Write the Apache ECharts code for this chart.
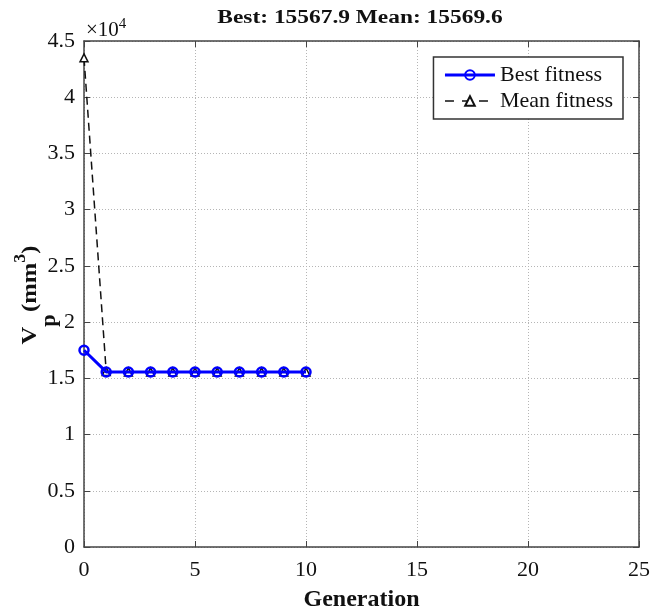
<!DOCTYPE html>
<html><head><meta charset="utf-8">
<script src="https://cdn.jsdelivr.net/npm/echarts@6/dist/echarts.min.js"></script>
<style>html,body{margin:0;padding:0;background:#fff}#c{width:651px;height:611px}</style>
</head><body><div id="c"></div>
<script>
const generations = [0,1,2,3,4,5,6,7,8,9,10];
const bestFitness = [17500,15568,15568,15568,15568,15568,15568,15568,15568,15568,15568];
const meanFitness = [43500,15600,15572,15570,15570,15570,15570,15570,15570,15570,15570];
const titleText = 'Best: 15567.9 Mean: 15569.6';
const xTicks = [0,5,10,15,20,25];
const yTicks = [0,5000,10000,15000,20000,25000,30000,35000,40000,45000];

const F = 'Liberation Serif';
const chart = echarts.init(document.getElementById('c'), null, {renderer:'canvas'});
const gridLine = {show:true, lineStyle:{color:'#b5b5b5', type:[1,2], width:1}};
const tick = {show:true, inside:true, length:6, lineStyle:{color:'#444', width:1}};
chart.setOption({
  animation:false,
  grid:{left:84, right:12, top:41, bottom:64, show:false, outerBoundsMode:'none', containLabel:false},
  legend:{
    right:28, top:57, orient:'vertical', itemGap:4, itemWidth:50, itemHeight:12,
    backgroundColor:'#fff', borderColor:'#333', borderWidth:1.5, padding:[7,10,7,10],
    textStyle:{fontFamily:F, fontSize:22, color:'#111'},
    data:[{name:'Best fitness', lineStyle:{width:3}}, {name:'Mean fitness', lineStyle:{width:1.5, type:[9,8]}}]
  },
  xAxis:[{
    type:'value', min:0, max:25, interval:5, position:'bottom',
    name:'Generation', nameLocation:'middle', nameGap:41,
    nameTextStyle:{fontFamily:F, fontWeight:'bold', fontSize:24, color:'#111'},
    axisLine:{show:true, onZero:false, lineStyle:{color:'#444', width:1.5}},
    axisTick:tick,
    axisLabel:{fontFamily:F, fontSize:22, color:'#111', margin:12},
    splitLine:gridLine
  },{
    type:'value', min:0, max:25, interval:5, position:'top',
    axisLine:{show:true, onZero:false, lineStyle:{color:'#444', width:1.5}},
    axisTick:tick, axisLabel:{show:false}, splitLine:{show:false}
  }],
  yAxis:[{
    type:'value', min:0, max:45000, interval:5000, position:'left',
    axisLine:{show:true, onZero:false, lineStyle:{color:'#444', width:1.5}},
    axisTick:tick,
    axisLabel:{fontFamily:F, fontSize:22, color:'#111', margin:9, formatter:v=>String(v/10000)},
    splitLine:gridLine
  },{
    type:'value', min:0, max:45000, interval:5000, position:'right',
    axisLine:{show:true, onZero:false, lineStyle:{color:'#444', width:1.5}},
    axisTick:tick, axisLabel:{show:false}, splitLine:{show:false}
  }],
  graphic:[
    {type:'text', x:360, y:27, scaleX:1.3, style:{text:titleText, fontFamily:F, fontWeight:'bold', fontSize:18,
      fill:'#111', align:'center', verticalAlign:'bottom'}},
    {type:'text', left:86, top:17, style:{text:'×10{s|4}', fontFamily:F, fontSize:21, fill:'#111',
      rich:{s:{fontFamily:F, fontSize:15, fill:'#111', padding:[0,0,12,0]}}}},
    {type:'text', x:30, y:295, rotation:Math.PI/2, scaleX:1.12, style:{
      text:'V{sub|p}(mm{sup|3})', fontFamily:F, fontWeight:'bold', fontSize:22, fill:'#111',
      align:'center', verticalAlign:'middle',
      rich:{
        sub:{fontFamily:F, fontWeight:'bold', fontSize:20, fill:'#111', padding:[40,2,0,0]},
        sup:{fontFamily:F, fontWeight:'bold', fontSize:16, fill:'#111', padding:[0,0,18,0]}
      }}}
  ],
  series:[
    {name:'Mean fitness', type:'line', xAxisIndex:0, yAxisIndex:0,
      data:generations.map((g,i)=>[g, meanFitness[i]]),
      lineStyle:{color:'#111', width:1.5, type:[8,5]},
      itemStyle:{color:'#fff', borderColor:'#111', borderWidth:1.5},
      symbol:'triangle', symbolSize:8, showAllSymbol:true, z:2},
    {name:'Best fitness', type:'line', xAxisIndex:0, yAxisIndex:0,
      data:generations.map((g,i)=>[g, bestFitness[i]]),
      lineStyle:{color:'#0000ff', width:3},
      itemStyle:{color:'rgba(255,255,255,0)', borderColor:'#0000ff', borderWidth:2.5},
      symbol:'circle', symbolSize:9, showAllSymbol:true, z:3}
  ]
});
</script></body></html>
